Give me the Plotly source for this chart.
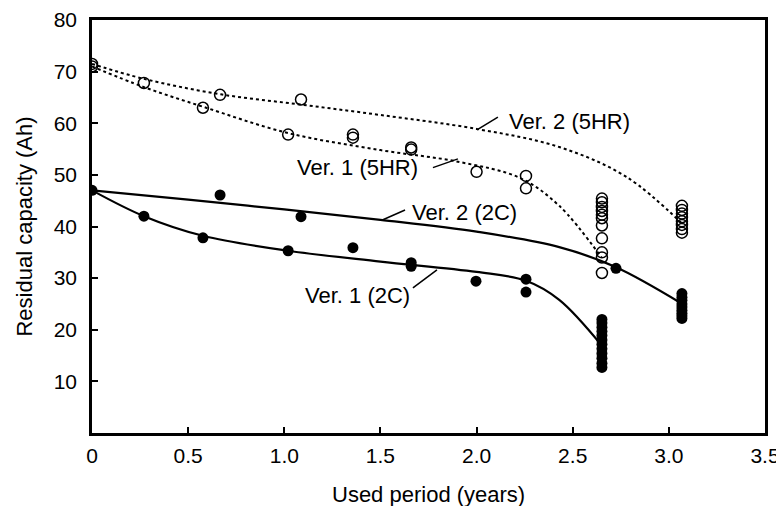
import plotly.graph_objects as go

# ---- data ----
# 5HR discharge measurements (open circles)
hr5_x = [0, 0, 0.27, 0.577, 0.666, 1.02, 1.087, 1.357, 1.357, 1.66, 1.66, 2.0, 2.257, 2.257,
         2.652, 2.652, 2.652, 2.652, 2.652, 2.652, 2.652, 2.652, 2.652, 2.652, 2.652,
         3.068, 3.068, 3.068, 3.068, 3.068, 3.068, 3.068, 3.068]
hr5_y = [71.5, 71.0, 67.8, 63.0, 65.5, 57.8, 64.6, 57.8, 57.2, 55.3, 54.9, 50.6, 49.8, 47.4,
         45.4, 44.7, 43.8, 43.0, 42.3, 41.6, 40.2, 37.7, 35.0, 34.0, 31.0,
         44.0, 43.2, 42.5, 41.8, 41.0, 40.3, 39.5, 38.8]

# 2C discharge measurements (filled circles)
c2_x = [0, 0.27, 0.577, 0.666, 1.02, 1.087, 1.357, 1.66, 1.66, 1.997, 2.257, 2.257, 2.725,
        2.652, 2.652, 2.652, 2.652, 2.652, 2.652, 2.652, 2.652, 2.652, 2.652, 2.652, 2.652,
        3.068, 3.068, 3.068, 3.068, 3.068, 3.068, 3.068, 3.068, 3.068]
c2_y = [47.0, 42.0, 37.8, 46.1, 35.3, 41.9, 35.9, 33.0, 32.3, 29.4, 29.8, 27.3, 31.9,
        22.0, 21.3, 20.5, 19.7, 18.9, 18.0, 17.2, 16.3, 15.4, 14.5, 13.5, 12.7,
        27.0, 26.3, 25.7, 25.0, 24.4, 23.8, 23.2, 22.7, 22.2]

# fitted trend curves
v2_5hr_x = [0, 0.27, 0.67, 1.09, 1.5, 2.0, 2.43, 2.78, 3.07]
v2_5hr_y = [71.5, 68.6, 65.6, 63.6, 61.6, 58.9, 55.4, 49.6, 40.5]
v1_5hr_x = [0, 0.27, 0.577, 1.02, 1.5, 1.91, 2.226, 2.43, 2.65]
v1_5hr_y = [71.0, 67.0, 63.2, 58.1, 54.8, 52.5, 49.4, 44.0, 34.0]
v2_2c_x = [0, 0.5, 1.0, 1.5, 2.0, 2.43, 2.72, 3.07]
v2_2c_y = [47.0, 45.2, 43.3, 41.3, 39.0, 36.0, 32.2, 25.0]
v1_2c_x = [0, 0.27, 0.577, 1.02, 1.5, 2.0, 2.257, 2.43, 2.65]
v1_2c_y = [47.0, 42.0, 38.2, 35.3, 33.2, 31.2, 29.5, 25.8, 17.0]

x_ticks = [0, 0.5, 1.0, 1.5, 2.0, 2.5, 3.0, 3.5]
x_tick_text = ["0", "0.5", "1.0", "1.5", "2.0", "2.5", "3.0", "3.5"]
y_ticks = [10, 20, 30, 40, 50, 60, 70, 80]

labels = ["Ver. 2 (5HR)", "Ver. 1 (5HR)", "Ver. 2 (2C)", "Ver. 1 (2C)"]
x_title = "Used period (years)"
y_title = "Residual capacity (Ah)"

FONT = "Liberation Sans, Arial, sans-serif"
FS = 21
FS_LAB = 22

fig = go.Figure()
fig.add_trace(go.Scatter(x=v2_5hr_x, y=v2_5hr_y, mode="lines",
                         line=dict(color="black", width=2, dash="dot", shape="spline", smoothing=1.0)))
fig.add_trace(go.Scatter(x=v1_5hr_x, y=v1_5hr_y, mode="lines",
                         line=dict(color="black", width=2, dash="dot", shape="spline", smoothing=1.0)))
fig.add_trace(go.Scatter(x=v2_2c_x, y=v2_2c_y, mode="lines",
                         line=dict(color="black", width=2.2, shape="spline", smoothing=1.0)))
fig.add_trace(go.Scatter(x=v1_2c_x, y=v1_2c_y, mode="lines",
                         line=dict(color="black", width=2.2, shape="spline", smoothing=1.0)))
fig.add_trace(go.Scatter(x=hr5_x, y=hr5_y, mode="markers",
                         marker=dict(symbol="circle-open", size=11, color="black",
                                     line=dict(width=1.5, color="black"))))
fig.add_trace(go.Scatter(x=c2_x, y=c2_y, mode="markers",
                         marker=dict(symbol="circle", size=11, color="black")))

# label positions and leader lines (data coords)
lab_pos = [(2.158, 60.3, "left"), (1.706, 51.5, "right"), (1.654, 42.8, "left"), (1.664, 26.7, "right")]
leaders = [((2.002, 58.7), (2.111, 61.2)), ((1.773, 51.4), (1.903, 53.1)),
           ((1.513, 41.3), (1.628, 43.2)), ((1.669, 28.1), (1.794, 31.6))]
for (lx, ly, anc), txt in zip(lab_pos, labels):
    fig.add_annotation(x=lx, y=ly, text=txt, showarrow=False, xanchor=anc, yanchor="middle",
                       font=dict(family=FONT, size=FS_LAB, color="black"))
for (a, b) in leaders:
    fig.add_shape(type="line", x0=a[0], y0=a[1], x1=b[0], y1=b[1],
                  line=dict(color="black", width=1.5), xref="x", yref="y")

# axis titles
fig.add_annotation(xref="paper", yref="paper", x=0.5, y=-0.148, text=x_title, showarrow=False,
                   xanchor="center", yanchor="middle", font=dict(family=FONT, size=FS_LAB, color="black"))
fig.add_annotation(xref="paper", yref="paper", x=-0.101, y=0.5, text=y_title, showarrow=False,
                   textangle=-90, xanchor="center", yanchor="middle",
                   font=dict(family=FONT, size=FS_LAB, color="black"))

# the page body adds an 8px offset, so the figure is 8px smaller than the window
fig.update_layout(
    width=776, height=498,
    margin=dict(l=84, r=19, t=12, b=73, autoexpand=False),
    paper_bgcolor="white", plot_bgcolor="white",
    showlegend=False,
    font=dict(family=FONT, size=FS, color="black"),
)
fig.update_xaxes(range=[0, 3.5], tickvals=x_ticks, ticktext=x_tick_text,
                 ticks="inside", ticklen=6, tickwidth=1.5, tickcolor="black",
                 showline=True, linewidth=2.5, linecolor="black", mirror=True,
                 showgrid=False, zeroline=False, automargin=False, ticklabelstandoff=2)
fig.update_yaxes(range=[0, 80], tickvals=y_ticks,
                 ticks="inside", ticklen=6, tickwidth=1.5, tickcolor="black",
                 showline=True, linewidth=2.5, linecolor="black", mirror=True,
                 showgrid=False, zeroline=False, automargin=False, ticklabelstandoff=8)

fig.write_html("out.html")
